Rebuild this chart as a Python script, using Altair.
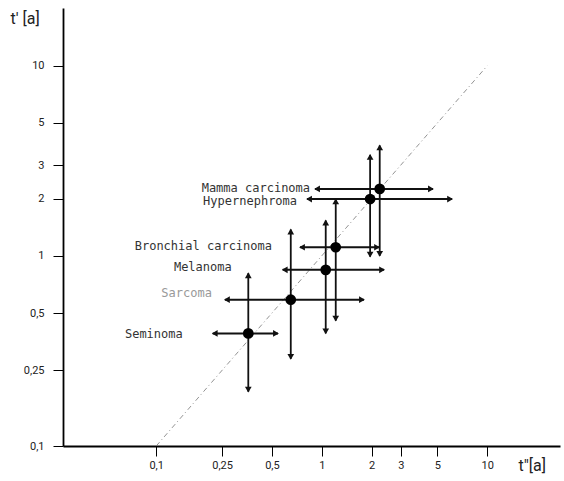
import math
import altair as alt
import pandas as pd

# ---------------- data ----------------
names = ["Mamma carcinoma", "Hypernephroma", "Bronchial carcinoma",
         "Melanoma", "Sarcoma", "Seminoma"]
t2 = [2.24, 1.96, 1.215, 1.057, 0.650, 0.360]        # t''[a] centre
t1 = [2.25, 1.99, 1.11, 0.844, 0.588, 0.391]         # t'[a] centre
t2_lo = [0.911, 0.815, 0.739, 0.581, 0.260, 0.2195]
t2_hi = [4.70, 6.13, 2.22, 2.38, 1.80, 0.544]
t1_lo = [1.00, 0.99, 0.456, 0.391, 0.2875, 0.193]
t1_hi = [3.81, 3.40, 1.98, 1.535, 1.376, 0.81]
x_ticks = [0.1, 0.25, 0.5, 1, 2, 3, 5, 10]
y_ticks = [0.1, 0.25, 0.5, 1, 2, 3, 5, 10]
diag = [0.1, 10]

# ---------------- layout / style ----------------
W, H = 497, 438
x_dom = [0.02735, 27.5]
y_dom = [0.1, 20.12]
label_dx = [-5, -10, -28, -51, -13, -30]      # px, right end of label vs left arrow end
label_dy = [-1, 1.5, -1, -2.6, -7, 1]         # px, down positive
label_col = ["#333", "#333", "#333", "#333", "#999", "#333"]

pxx = W / (math.log10(x_dom[1]) - math.log10(x_dom[0]))
pxy = H / (math.log10(y_dom[1]) - math.log10(y_dom[0]))

df = pd.DataFrame({
    "name": names, "t2": t2, "t1": t1,
    "t2_lo": t2_lo, "t2_hi": t2_hi, "t1_lo": t1_lo, "t1_hi": t1_hi,
    "col": label_col,
})
df["lx"] = [a * 10 ** (d / pxx) for a, d in zip(t2_lo, label_dx)]
df["ly"] = [a * 10 ** (-d / pxy) for a, d in zip(t1, label_dy)]

ddf = pd.DataFrame({"t": diag})

lab_expr = "replace(toString(datum.value), '.', ',')"
xscale = alt.Scale(type="log", domain=x_dom, nice=False, zero=False)
yscale = alt.Scale(type="log", domain=y_dom, nice=False, zero=False)
xaxis = alt.Axis(values=x_ticks, labelExpr=lab_expr, grid=False,
                 domainColor="black", domainWidth=1.8, tickColor="black",
                 tickWidth=1, tickSize=10, labelFont="Roboto", labelFontSize=11,
                 labelColor="#222", labelPadding=3, labelFlush=False,
                 labelOverlap=False, title='t"[a]', titleFont="Roboto",
                 titleFontSize=16, titleFontWeight="normal", titleColor="#222",
                 titleAngle=0, titleX=455, titleY=19, titleAlign="left",
                 titleBaseline="middle")
yaxis = alt.Axis(values=y_ticks, labelExpr=lab_expr, grid=False,
                 domainColor="black", domainWidth=1.8, tickColor="black",
                 tickWidth=1, tickSize=10, labelFont="Roboto", labelFontSize=11,
                 labelColor="#222", labelPadding=9, labelFlush=False,
                 labelOverlap=False, title="t' [a]", titleFont="Roboto",
                 titleFontSize=16, titleFontWeight="normal", titleColor="#222",
                 titleAngle=0, titleX=-53, titleY=10, titleAlign="left",
                 titleBaseline="middle")


def X(f):
    return alt.X(f, type="quantitative", scale=xscale, axis=xaxis)


def Y(f):
    return alt.Y(f, type="quantitative", scale=yscale, axis=yaxis)


base = alt.Chart(df)

diag_line = alt.Chart(ddf).mark_line(color="#777", strokeWidth=0.8,
                                     strokeDash=[5, 3, 1, 3]).encode(x=X("t"), y=Y("t"))

hrule = base.mark_rule(color="#111", strokeWidth=2).encode(
    x=X("t2_lo"), x2="t2_hi", y=Y("t1"))
vrule = base.mark_rule(color="#111", strokeWidth=1.8).encode(
    x=X("t2"), y=Y("t1_lo"), y2="t1_hi")

ah = dict(filled=True, color="#111", size=45, opacity=1)
a_left = base.mark_point(shape="triangle-left", xOffset=2, **ah).encode(x=X("t2_lo"), y=Y("t1"))
a_right = base.mark_point(shape="triangle-right", xOffset=-2, **ah).encode(x=X("t2_hi"), y=Y("t1"))
a_up = base.mark_point(shape="triangle-up", yOffset=2, **ah).encode(x=X("t2"), y=Y("t1_hi"))
a_down = base.mark_point(shape="triangle-down", yOffset=-2, **ah).encode(x=X("t2"), y=Y("t1_lo"))

dots = base.mark_circle(color="#000", size=115, opacity=1).encode(x=X("t2"), y=Y("t1"))

labels = base.mark_text(align="right", baseline="middle", font="DejaVu Sans Mono",
                        fontSize=12).encode(
    x=X("lx"), y=Y("ly"), text="name:N",
    color=alt.Color("col:N", scale=None))

chart = alt.layer(diag_line, hrule, vrule, a_left, a_right, a_up, a_down,
                  dots, labels).properties(
    width=W, height=H,
    autosize=alt.AutoSizeParams(type="none"),
    padding={"left": 63, "top": 8, "right": 4, "bottom": 35},
    background="white",
).configure_view(stroke=None)

chart.save("out.html", embed_options={"renderer": "svg", "actions": False})
